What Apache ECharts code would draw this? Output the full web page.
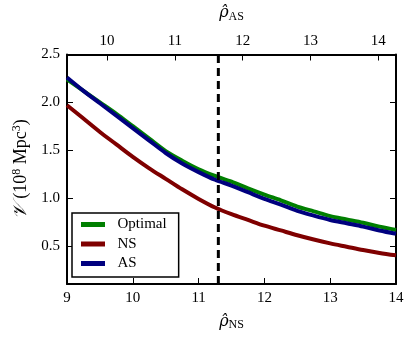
<!DOCTYPE html>
<html>
<head>
<meta charset="utf-8">
<script src="https://cdn.jsdelivr.net/npm/echarts@6/dist/echarts.min.js"></script>
<style>
  html, body { margin: 0; padding: 0; background: #fff; }
  #chart { width: 416px; height: 340px; }
</style>
</head>
<body>
<div id="chart"></div>
<script>
// rho_NS sample points
var rhoNS = [9.0, 9.25, 9.5, 9.75, 10.0, 10.25, 10.5, 10.75, 11.0, 11.25, 11.5,
             11.75, 12.0, 12.25, 12.5, 12.75, 13.0, 13.25, 13.5, 13.75, 14.0];
var optimalVol = [2.24, 2.12, 2.00, 1.88, 1.75, 1.62, 1.49, 1.39, 1.30, 1.23, 1.17,
                  1.10, 1.035, 0.975, 0.91, 0.86, 0.81, 0.775, 0.74, 0.70, 0.665];
var nsVol = [1.97, 1.83, 1.69, 1.56, 1.43, 1.31, 1.20, 1.09, 0.99, 0.90, 0.83,
             0.77, 0.71, 0.66, 0.61, 0.565, 0.525, 0.49, 0.455, 0.425, 0.40];
var asVol = [2.26, 2.12, 1.99, 1.86, 1.73, 1.60, 1.47, 1.36, 1.27, 1.19, 1.13,
             1.06, 0.99, 0.93, 0.865, 0.815, 0.77, 0.735, 0.70, 0.66, 0.625];
var threshold = 11.3;
var yTicks = [0.5, 1.0, 1.5, 2.0, 2.5];
var asTicks = [10, 11, 12, 13, 14];

var font = "'Liberation Serif', 'DejaVu Serif', serif";
var mathFont = "'DejaVu Serif', serif";

function pairs(ys) {
  return rhoNS.map(function (x, i) { return [x, ys[i]]; });
}

var rhoRich = {
  r: { fontFamily: mathFont, fontStyle: "italic", fontSize: 16, color: "#000" },
  s: { fontFamily: font, fontSize: 12, color: "#000", padding: [7, 0, 0, 0] }
};

var myChart = echarts.init(document.getElementById("chart"));

var option = {
  animation: false,
  color: ["#007f00", "#7f0000", "#00007f"],
  grid: { left: 67, right: 20, top: 53, bottom: 56 },
  legend: {
    data: ["Optimal", "NS", "AS"],
    orient: "vertical",
    left: 72,
    top: 213,
    padding: [4, 12, 6, 9],
    itemGap: 4.5,
    itemWidth: 24,
    itemHeight: 5,
    icon: "rect",
    borderColor: "#000",
    borderWidth: 1.5,
    borderRadius: 0,
    backgroundColor: "#fff",
    formatter: function (name) { return "  " + name; },
    textStyle: { fontFamily: font, fontSize: 15, color: "#000" }
  },
  xAxis: [
    {
      type: "value",
      min: 9, max: 14, interval: 1,
      name: "{r|ρ̂}{s|NS}",
      nameLocation: "middle",
      nameGap: 28,
      nameTextStyle: { rich: rhoRich },
      axisLine: { lineStyle: { color: "#000", width: 2 } },
      axisTick: { inside: true, length: 6, lineStyle: { color: "#000" } },
      axisLabel: { fontFamily: font, fontSize: 15, color: "#000", margin: 7 },
      splitLine: { show: false }
    },
    {
      type: "value",
      position: "top",
      min: 9.41, max: 14.26,
      name: "{r|ρ̂}{s|AS}",
      nameLocation: "middle",
      nameGap: 32,
      nameTextStyle: { rich: rhoRich },
      axisLine: { lineStyle: { color: "#000", width: 2 } },
      axisTick: { inside: true, length: 6, customValues: asTicks, lineStyle: { color: "#000" } },
      axisLabel: { fontFamily: font, fontSize: 15, color: "#000", margin: 6, customValues: asTicks },
      splitLine: { show: false }
    }
  ],
  yAxis: [
    {
      type: "value",
      min: 0.1, max: 2.5,
      name: "{v|𝒱}{t| (10}{p|8}{t| Mpc}{p|3}{t|)}",
      nameLocation: "middle",
      nameGap: 34,
      nameTextStyle: {
        rich: {
          v: { fontFamily: mathFont, fontStyle: "italic", fontSize: 19, color: "#000" },
          t: { fontFamily: font, fontSize: 18, color: "#000" },
          p: { fontFamily: font, fontSize: 12, color: "#000", padding: [0, 0, 9, 0] }
        }
      },
      axisLine: { show: true, lineStyle: { color: "#000", width: 2 } },
      axisTick: { inside: true, length: 6, customValues: yTicks, lineStyle: { color: "#000" } },
      axisLabel: {
        fontFamily: font, fontSize: 15, color: "#000", margin: 7,
        customValues: yTicks,
        formatter: function (v) { return v.toFixed(1); }
      },
      splitLine: { show: false }
    },
    {
      type: "value",
      position: "right",
      min: 0.1, max: 2.5,
      axisLine: { show: true, lineStyle: { color: "#000", width: 2 } },
      axisTick: { inside: true, length: 6, customValues: yTicks, lineStyle: { color: "#000" } },
      axisLabel: { show: false },
      splitLine: { show: false }
    }
  ],
  series: [
    {
      name: "Optimal", type: "line", data: pairs(optimalVol),
      smooth: 0.3, showSymbol: false, lineStyle: { width: 4 }
    },
    {
      name: "NS", type: "line", data: pairs(nsVol),
      smooth: 0.3, showSymbol: false, lineStyle: { width: 4 }
    },
    {
      name: "AS", type: "line", data: pairs(asVol),
      smooth: 0.3, showSymbol: false, lineStyle: { width: 4 }
    },
    {
      name: "threshold", type: "line",
      data: [[threshold, 0.1], [threshold, 2.5]],
      showSymbol: false, silent: true,
      lineStyle: { color: "#000", width: 3, type: [8, 5] },
      z: 5
    }
  ]
};

myChart.setOption(option);
</script>
</body>
</html>
